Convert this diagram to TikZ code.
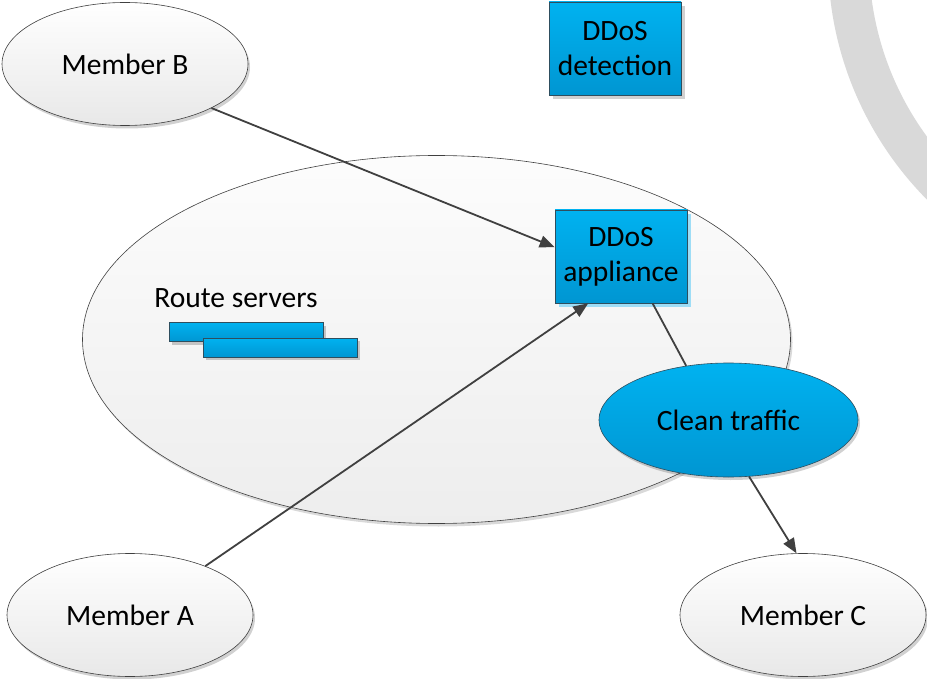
\documentclass[tikz,border=0pt]{standalone}
\usepackage{fontspec}
\setmainfont{Carlito}
\usetikzlibrary{shapes.geometric,arrows.meta,shadows}
\definecolor{ringgray}{HTML}{D9D9D9}
\definecolor{bluetop}{HTML}{00B2F0}
\definecolor{bluebot}{HTML}{0096D2}
\definecolor{blueedge}{HTML}{2E4E5E}
\definecolor{lineclr}{HTML}{404040}
\definecolor{lightblue}{HTML}{9EDDF6}
\tikzset{
  txt/.style={font=\fontsize{29.5pt}{35pt}\selectfont, text=black},
  member/.style={ellipse, draw=black!75, line width=0.6pt, top color=white, bottom color=black!9,
    minimum width=246pt, minimum height=123pt, inner sep=0pt, txt,
    drop shadow={shadow xshift=2pt, shadow yshift=-3pt, opacity=0.18, fill=black}},
  cloud/.style={ellipse, draw=black!75, line width=0.6pt, top color=black!1, bottom color=black!7,
    minimum width=708pt, minimum height=368pt, inner sep=0pt,
    drop shadow={shadow xshift=2pt, shadow yshift=-3pt, opacity=0.15, fill=black}},
  bluebox/.style={rectangle, draw=blueedge, line width=0.6pt, top color=bluetop, bottom color=bluebot,
    minimum width=132pt, minimum height=93pt, inner sep=0pt, align=center, txt},
  blueell/.style={ellipse, draw=blueedge, line width=0.6pt, top color=bluetop, bottom color=bluebot,
    minimum width=259pt, minimum height=114pt, inner sep=0pt, txt,
    drop shadow={shadow xshift=2pt, shadow yshift=-3pt, opacity=0.18, fill=black}},
  bar/.style={rectangle, draw=blueedge, line width=0.6pt, top color=bluetop, bottom color=bluebot,
    minimum width=154pt, minimum height=19pt, inner sep=0pt,
    drop shadow={shadow xshift=3pt, shadow yshift=-3pt, opacity=0.2, fill=black}},
  conn/.style={draw=lineclr, line width=1.8pt},
  arr/.style={conn, -{Triangle[length=15pt,width=12pt]}}
}
\begin{document}
\begin{tikzpicture}[x=1pt,y=-1pt]
\path[use as bounding box] (0,0) rectangle (927,679);
\fill[white] (0,0) rectangle (927,679);
\begin{scope}
\clip (0,0) rectangle (927,679);
\draw[ringgray, line width=41pt] (1170,-41) circle [radius=321.5pt];
\end{scope}
% big ellipse
\node[cloud] (ix) at (436.5,339.5) {};
% members
\node[member] (mb) at (125,64) {Member B};
\node[member] (ma) at (130,615) {Member A};
\node[member] (mc) at (803,615) {Member C};
% DDoS detection
\node[bluebox, drop shadow={shadow xshift=4pt, shadow yshift=-4pt, opacity=0.18, fill=black}] (det) at (615,48.5) {DDoS\\detection};
% route servers
\node[txt, anchor=base] (rst) at (236,308) {Route servers};
\node[bar] (rs1) at (246,332) {};
\node[bar] (rs2) at (280,347.5) {};
% DDoS appliance
\node[bluebox, drop shadow={shadow xshift=4pt, shadow yshift=-4pt, opacity=1, fill=lightblue}] (app) at (621,256.5) {DDoS\\appliance};
% clean traffic
\node[blueell] (ct) at (728.5,420) {Clean traffic};
% connectors
\draw[arr] (mb.-27) -- (app.172);
\draw[arr] (ma.33) -- (app.235);
\draw[conn] (app.-56) -- (ct.128);
\draw[arr] (ct.-70) -- (mc.96);
\end{tikzpicture}
\end{document}
